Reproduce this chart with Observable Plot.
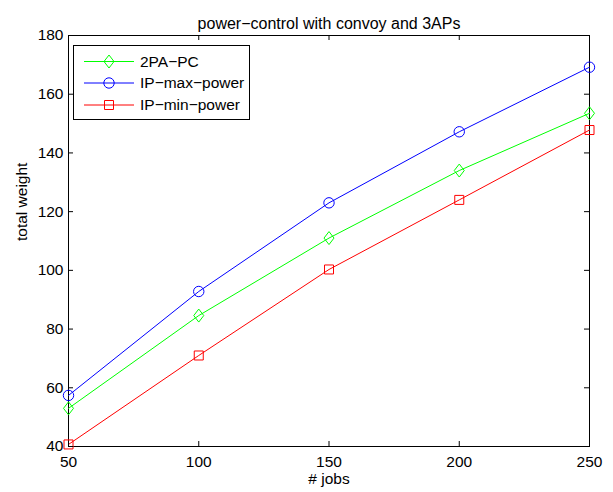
<!DOCTYPE html>
<html>
<head>
<meta charset="utf-8">
<script src="https://cdn.jsdelivr.net/npm/d3@7"></script>
<script src="https://cdn.jsdelivr.net/npm/@observablehq/plot@0.6"></script>
<style>
  html, body { margin: 0; padding: 0; background: #fff; }
  #wrap { position: relative; width: 613px; height: 492px; }
  #legend { position: absolute; left: 0; top: 0; }
</style>
</head>
<body>
<div id="wrap"></div>
<script>
const jobs = [50, 100, 150, 200, 250];
const pc2pa = [53, 84.6, 111, 134, 153.5];
const ipMax = [57.4, 92.8, 123, 147.2, 169.2];
const ipMin = [40.7, 71, 100.3, 124, 147.8];
const seriesNames = ["2PA−PC", "IP−max−power", "IP−min−power"];
const seriesColors = ["#00ff00", "#0000ff", "#ff0000"];
const xTicks = [50, 100, 150, 200, 250];
const yTicks = [40, 60, 80, 100, 120, 140, 160, 180];
const titleText = "power−control with convoy and 3APs";
const xLabel = "# jobs";
const yLabel = "total weight";

const W = 613, H = 492;
const mL = 68, mR = 24, mT = 35, mB = 46;
const fw = W - mL - mR, fh = H - mT - mB;
const FS = 15.5;

// custom symbols (Matlab-like)
const diamondSym = { draw(ctx, size) { const w = 5, h = 6.5; ctx.moveTo(0, -h); ctx.lineTo(w, 0); ctx.lineTo(0, h); ctx.lineTo(-w, 0); ctx.closePath(); } };
const circleSym = { draw(ctx, size) { const r = 5.2; ctx.moveTo(r, 0); ctx.arc(0, 0, r, 0, 2 * Math.PI); } };
const squareSym = { draw(ctx, size) { const s = 4.5; ctx.rect(-s, -s, 2 * s, 2 * s); } };
const symbols = [diamondSym, circleSym, squareSym];

const seriesValues = [pc2pa, ipMax, ipMin];
const rows = [];
seriesValues.forEach((vals, si) => vals.forEach((v, i) => rows.push({ series: seriesNames[si], jobs: jobs[i], value: v, si })));

const font = "Liberation Sans, Arial, Helvetica, sans-serif";
const marks = [];
seriesValues.forEach((vals, si) => {
  const data = rows.filter(d => d.si === si);
  marks.push(Plot.line(data, { x: "jobs", y: "value", stroke: seriesColors[si], strokeWidth: 1 }));
  marks.push(Plot.dot(data, { x: "jobs", y: "value", stroke: seriesColors[si], strokeWidth: 1, symbol: symbols[si], r: 5, fill: "none" }));
});

const chart = Plot.plot({
  width: W, height: H,
  marginLeft: mL, marginRight: mR, marginTop: mT, marginBottom: mB,
  style: { fontFamily: font, fontSize: FS + "px", background: "white", color: "black" },
  x: { domain: [50, 250], ticks: xTicks },
  y: { domain: [40, 180], ticks: yTicks },
  marks: [
    Plot.frame({ stroke: "black", strokeWidth: 1 }),
    ...marks,
    Plot.axisX(xTicks, { anchor: "bottom", tickSize: 0, tickPadding: 9.5, label: null, fontSize: FS }),
    Plot.axisY(yTicks, { anchor: "left", tickSize: 0, tickPadding: 5, label: null, fontSize: FS }),
    Plot.tickX(xTicks, { x: d => d, insetTop: fh - 5, stroke: "black" }),
    Plot.tickX(xTicks, { x: d => d, insetBottom: fh - 5, stroke: "black" }),
    Plot.tickY(yTicks, { y: d => d, insetRight: fw - 5, stroke: "black" }),
    Plot.tickY(yTicks, { y: d => d, insetLeft: fw - 5, stroke: "black" }),
    Plot.text([titleText], { text: d => d, frameAnchor: "top", dy: -18, fontSize: 16, fill: "black" }),
    Plot.text([xLabel], { text: d => d, frameAnchor: "bottom", dy: 37, fontSize: FS, fill: "black" }),
    Plot.text([yLabel], { text: d => d, frameAnchor: "left", dx: -46, rotate: -90, fontSize: FS, fill: "black" })
  ]
});
document.getElementById("wrap").appendChild(chart);

// legend overlay
const lg = d3.select("#wrap").append("svg").attr("id", "legend").attr("width", W).attr("height", H);
lg.append("rect").attr("x", 73.5).attr("y", 45.5).attr("width", 176).attr("height", 74)
  .attr("fill", "white").attr("stroke", "black").attr("stroke-width", 1);
const ys = [61.5, 83, 105];
seriesNames.forEach((name, i) => {
  const y = ys[i];
  lg.append("line").attr("x1", 84).attr("x2", 134).attr("y1", y).attr("y2", y).attr("stroke", seriesColors[i]).attr("stroke-width", 1);
  const p = d3.path(); symbols[i].draw(p, 0);
  lg.append("path").attr("d", p.toString()).attr("transform", `translate(109,${y})`).attr("fill", "none").attr("stroke", seriesColors[i]);
  lg.append("text").attr("x", 140).attr("y", y).attr("dy", "0.35em").attr("font-family", font).attr("font-size", FS).text(name);
});
</script>
</body>
</html>
